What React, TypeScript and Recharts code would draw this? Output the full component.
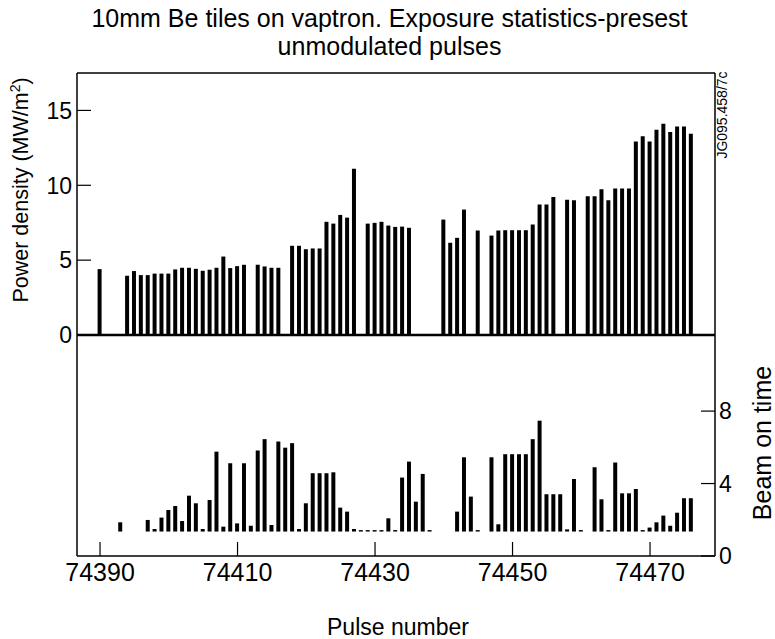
import React from 'react';
import { BarChart, Bar, XAxis, YAxis } from 'recharts';

// Top panel: power density (MW/m^2) per pulse
const powerPulses = [
  74390, 74394, 74395, 74396, 74397, 74398, 74399, 74400, 74401, 74402, 74403, 74404, 74405,
  74406, 74407, 74408, 74409, 74410, 74411, 74413, 74414, 74415, 74416, 74418, 74419, 74420,
  74421, 74422, 74423, 74424, 74425, 74426, 74427, 74429, 74430, 74431, 74432, 74433, 74434,
  74435, 74440, 74441, 74442, 74443, 74445, 74447, 74448, 74449, 74450, 74451, 74452, 74453,
  74454, 74455, 74456, 74458, 74459, 74461, 74462, 74463, 74464, 74465, 74466, 74467, 74468,
  74469, 74470, 74471, 74472, 74473, 74474, 74475, 74476,
];
const powerValues = [
  4.4, 3.95, 4.27, 4.0, 4.0, 4.1, 4.1, 4.1, 4.38, 4.49, 4.49, 4.42, 4.29,
  4.36, 4.49, 5.24, 4.47, 4.6, 4.69, 4.69, 4.58, 4.49, 4.49, 5.96, 5.96, 5.73,
  5.78, 5.78, 7.56, 7.44, 8.02, 7.84, 11.1, 7.44, 7.49, 7.56, 7.31, 7.22, 7.24,
  7.16, 7.71, 6.16, 6.49, 8.38, 6.98, 6.64, 6.98, 7.0, 7.0, 7.0, 7.0, 7.38,
  8.71, 8.71, 9.22, 9.04, 9.0, 9.27, 9.27, 9.73, 9.0, 9.78, 9.78, 9.78, 12.93,
  13.27, 12.93, 13.71, 14.11, 13.56, 13.93, 13.93, 13.44,
];

// Bottom panel: beam on time per pulse (bars drawn from a common floor)
const beamFloor = 1.35;
const beamPulses = [
  74393, 74397, 74398, 74399, 74400, 74401, 74402, 74403, 74404, 74405, 74406, 74407, 74408,
  74409, 74410, 74411, 74412, 74413, 74414, 74415, 74416, 74417, 74418, 74419, 74420, 74421,
  74422, 74423, 74424, 74425, 74426, 74427, 74428, 74429, 74430, 74431, 74432, 74433, 74434,
  74435, 74436, 74437, 74438, 74442, 74443, 74444, 74445, 74447, 74448, 74449, 74450, 74451,
  74452, 74453, 74454, 74455, 74456, 74457, 74458, 74459, 74460, 74462, 74463, 74464, 74465,
  74466, 74467, 74468, 74469, 74470, 74471, 74472, 74473, 74474, 74475, 74476,
];
const beamValues = [
  1.86, 1.99, 1.49, 2.12, 2.54, 2.76, 1.93, 3.33, 2.91, 1.49, 3.09, 5.76, 1.62,
  5.12, 1.8, 5.12, 1.67, 5.82, 6.45, 1.71, 6.32, 5.98, 6.23, 1.49, 2.91, 4.57,
  4.57, 4.57, 4.62, 2.67, 2.45, 1.49, 1.43, 1.43, 1.43, 1.43, 2.08, 1.43, 4.33,
  5.21, 3.0, 4.53, 1.43, 2.45, 5.45, 3.28, 1.43, 5.45, 1.75, 5.62, 5.62, 5.62,
  5.62, 6.45, 7.47, 3.41, 3.41, 3.41, 1.47, 4.25, 1.43, 4.9, 3.13, 1.43, 5.16,
  3.46, 3.46, 3.7, 1.43, 1.57, 1.86, 2.23, 1.67, 2.39, 3.19, 3.19,
];

const xTicks = [74390, 74410, 74430, 74450, 74470];
const powerTicks = [0, 5, 10, 15];
const beamTicks = [0, 4, 8];
const xDomain = [74386.65, 74479.45];
const powerDomain = [0, 17.5];
const beamDomain = [0, 12.2];

const title1 = '10mm Be tiles on vaptron. Exposure statistics-presest';
const title2 = 'unmodulated pulses';
const figId = 'JG095.458/7c';

const powerData = powerPulses.map((p, i) => ({ pulse: p, power: powerValues[i] }));
const beamData = beamPulses.map((p, i) => ({ pulse: p, beam: [beamFloor, beamValues[i]] }));

const FONT = '"Liberation Sans", Arial, sans-serif';
const TICK_LEN = 14;

const LeftTick = (props: any) => {
  const { x, y, payload } = props;
  return (
    <g>
      <line x1={x} x2={x + TICK_LEN} y1={y} y2={y} stroke="#000" strokeWidth={1.2} />
      <text x={x - 5} y={y} dy="0.36em" textAnchor="end" fontSize={23} fontFamily={FONT} fill="#000">
        {payload.value}
      </text>
    </g>
  );
};

const RightTick = (props: any) => {
  const { x, y, payload } = props;
  return (
    <g>
      <line x1={x - TICK_LEN} x2={x} y1={y} y2={y} stroke="#000" strokeWidth={1.2} />
      <text x={x + 4} y={y} dy="0.36em" textAnchor="start" fontSize={23} fontFamily={FONT} fill="#000">
        {payload.value}
      </text>
    </g>
  );
};

const BottomTick = (props: any) => {
  const { x, y, payload } = props;
  return (
    <g>
      <line x1={x} x2={x} y1={y} y2={y - TICK_LEN} stroke="#000" strokeWidth={1.2} />
      <text x={x} y={y + 16} dy="0.36em" textAnchor="middle" fontSize={25} fontFamily={FONT} fill="#000">
        {payload.value}
      </text>
    </g>
  );
};

export default function App() {
  return (
    <div style={{ position: 'absolute', left: 0, top: 0, width: 775, height: 639, background: '#fff', fontFamily: FONT }}>
      <div style={{ position: 'absolute', left: 2, top: 4, width: 775, textAlign: 'center', fontSize: 25, lineHeight: '28px', color: '#000' }}>
        <div>{title1}</div>
        <div>{title2}</div>
      </div>

      <div style={{ position: 'absolute', left: 0, top: 335 }}>
        <BarChart width={775} height={304} data={beamData} margin={{ top: 0, right: 0, left: 37, bottom: 0 }}>
          <XAxis
            dataKey="pulse"
            type="number"
            domain={xDomain}
            allowDataOverflow
            ticks={xTicks}
            interval={0}
            height={83}
            tickSize={0}
            tickMargin={0}
            tickLine={false}
            tick={<BottomTick />}
            axisLine={{ stroke: '#000', strokeWidth: 1.5 }}
            label={{
              content: (p: any) => {
                const vb = p.viewBox;
                return (
                  <text x={398} y={vb.y + 79} textAnchor="middle" fontSize={23} fontFamily={FONT} fill="#000">
                    Pulse number
                  </text>
                );
              },
            }}
          />
          <YAxis
            yAxisId="l"
            type="number"
            domain={beamDomain}
            width={40}
            tick={false}
            tickLine={false}
            axisLine={{ stroke: '#000', strokeWidth: 1.5 }}
          />
          <YAxis
            orientation="right"
            type="number"
            domain={beamDomain}
            ticks={beamTicks}
            interval={0}
            width={60}
            tickSize={0}
            tickMargin={0}
            tickLine={false}
            tick={<RightTick />}
            axisLine={{ stroke: '#000', strokeWidth: 1.5 }}
            label={{
              content: (p: any) => {
                const vb = p.viewBox;
                const cx = vb.x + 56;
                const cy = vb.y + 108;
                return (
                  <text x={cx} y={cy} transform={`rotate(-90 ${cx} ${cy})`} textAnchor="middle" fontSize={25} fontFamily={FONT} fill="#000">
                    Beam on time
                  </text>
                );
              },
            }}
          />
          <Bar dataKey="beam" fill="#000" barSize={4} isAnimationActive={false} />
        </BarChart>
      </div>

      <div style={{ position: 'absolute', left: 0, top: 0 }}>
        <BarChart width={775} height={360} data={powerData} margin={{ top: 72, right: 0, left: 37, bottom: 24 }}>
          <XAxis
            dataKey="pulse"
            type="number"
            domain={xDomain}
            allowDataOverflow
            height={1}
            tick={false}
            tickLine={false}
            axisLine={{ stroke: '#000', strokeWidth: 2.5 }}
          />
          <XAxis
            xAxisId="top"
            orientation="top"
            dataKey="pulse"
            type="number"
            domain={xDomain}
            allowDataOverflow
            height={1}
            tick={false}
            tickLine={false}
            axisLine={{ stroke: '#000', strokeWidth: 1.5 }}
          />
          <YAxis
            type="number"
            domain={powerDomain}
            ticks={powerTicks}
            interval={0}
            width={40}
            tickSize={0}
            tickMargin={0}
            tickLine={false}
            tick={<LeftTick />}
            axisLine={{ stroke: '#000', strokeWidth: 1.5 }}
            label={{
              content: (p: any) => {
                const vb = p.viewBox;
                const cx = vb.x - 9;
                const cy = vb.y + vb.height / 2 - 14;
                return (
                  <text x={cx} y={cy} transform={`rotate(-90 ${cx} ${cy})`} textAnchor="middle" fontSize={21.5} fontFamily={FONT} fill="#000">
                    Power density (MW/m<tspan dy="-8" fontSize={14}>2</tspan><tspan dy="8">)</tspan>
                  </text>
                );
              },
            }}
          />
          <YAxis
            yAxisId="r"
            orientation="right"
            type="number"
            domain={powerDomain}
            width={60}
            tick={false}
            tickLine={false}
            axisLine={{ stroke: '#000', strokeWidth: 1.5 }}
            label={{
              content: (p: any) => {
                const vb = p.viewBox;
                const cx = vb.x + 12;
                const cy = vb.y + 42;
                return (
                  <text x={cx} y={cy} transform={`rotate(-90 ${cx} ${cy})`} textAnchor="middle" fontSize={14} fontFamily={FONT} fill="#000">
                    {figId}
                  </text>
                );
              },
            }}
          />
          <Bar dataKey="power" fill="#000" barSize={4} isAnimationActive={false} />
        </BarChart>
      </div>
    </div>
  );
}
